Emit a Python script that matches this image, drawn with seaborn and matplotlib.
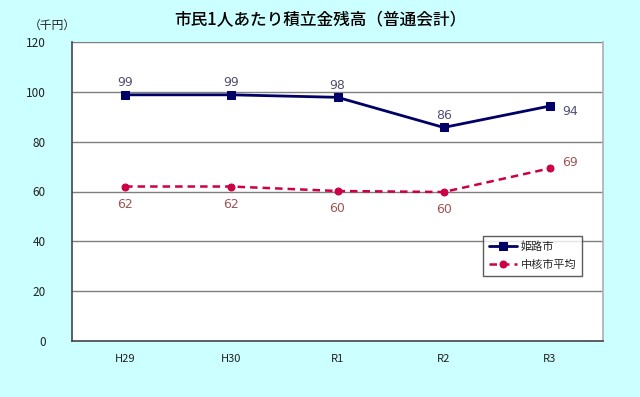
import matplotlib
matplotlib.use("Agg")
import matplotlib.pyplot as plt
import seaborn as sns
import pandas as pd

categories = ["H29", "H30", "R1", "R2", "R3"]
himeji = [98.8, 98.8, 97.8, 85.7, 94.3]
chukaku = [62.0, 62.0, 60.2, 59.8, 69.3]
himeji_labels = ["99", "99", "98", "86", "94"]
chukaku_labels = ["62", "62", "60", "60", "69"]
series_names = ["姫路市", "中核市平均"]
yticks = [0, 20, 40, 60, 80, 100, 120]

sns.set_theme(style="white")
plt.rcParams['font.family'] = ['Noto Sans CJK JP', 'DejaVu Sans']

df = pd.DataFrame({
    "year": categories * 2,
    "value": himeji + chukaku,
    "series": [series_names[0]] * 5 + [series_names[1]] * 5,
})

bg = "#CCFFFF"
fig = plt.figure(figsize=(6.4, 3.97), dpi=100, facecolor=bg)
ax = fig.add_axes([72/640, 1 - 341/397, (603-72)/640, (341-42)/397])
ax.set_facecolor("white")

blue = "#000066"
red = "#CC0044"
sns.lineplot(data=df[df.series == series_names[0]], x="year", y="value", ax=ax,
             color=blue, lw=2, marker="s", markersize=5.5, markeredgecolor=blue,
             label=series_names[0], sort=False)
sns.lineplot(data=df[df.series == series_names[1]], x="year", y="value", ax=ax,
             color=red, lw=1.8, linestyle=(0, (3, 2)), marker="o", markersize=5,
             markeredgecolor=red, label=series_names[1], sort=False)

ax.set_ylim(0, 120)
ax.set_xlim(-0.5, 4.5)
ax.set_yticks(yticks)
ax.set_yticklabels([str(v) for v in yticks], fontsize=8.5, color="#222222")
ax.set_xticks(range(len(categories)))
ax.set_xticklabels(categories, fontsize=8, color="#222222")
ax.tick_params(axis="x", which="major", length=0, pad=9)
ax.tick_params(axis="y", which="major", length=0, pad=19)
ax.set_xticks([0.5, 1.5, 2.5, 3.5], minor=True)
ax.tick_params(axis="x", which="minor", length=3, direction="in", color="#444444", width=1)
for y in yticks[1:]:
    ax.axhline(y, color="#7f7f7f", lw=1, zorder=0.5)
ax.set_xlabel("")
ax.set_ylabel("")
for s in ["left", "bottom"]:
    ax.spines[s].set_color("#444444")
    ax.spines[s].set_linewidth(1.2)
ax.spines["top"].set_visible(False)
ax.spines["right"].set_color("#b0b0b0")

lab_blue = "#505070"
lab_red = "#A05555"
for i, (v, t) in enumerate(zip(himeji, himeji_labels)):
    if i == 4:
        ax.annotate(t, (i, v), xytext=(9, -4), textcoords="offset points",
                    ha="left", va="center", fontsize=9, color=lab_blue, family="DejaVu Sans")
    else:
        ax.annotate(t, (i, v), xytext=(0, 4), textcoords="offset points",
                    ha="center", va="bottom", fontsize=9, color=lab_blue, family="DejaVu Sans")
for i, (v, t) in enumerate(zip(chukaku, chukaku_labels)):
    if i == 4:
        ax.annotate(t, (i, v), xytext=(9, 4), textcoords="offset points",
                    ha="left", va="center", fontsize=9, color=lab_red, family="DejaVu Sans")
    else:
        ax.annotate(t, (i, v), xytext=(0, -8), textcoords="offset points",
                    ha="center", va="top", fontsize=9, color=lab_red, family="DejaVu Sans")

leg = ax.legend(loc="upper left", bbox_to_anchor=((483-72)/531, (341-236)/299),
                fontsize=8, frameon=True, fancybox=False, handlelength=2.6,
                borderpad=0.5, labelspacing=0.7, handletextpad=0.3, borderaxespad=0)
leg.get_frame().set_edgecolor("#333333")
leg.get_frame().set_linewidth(1)
leg.get_frame().set_facecolor("white")

fig.text(320/640, 1 - 20/397, "市民1人あたり積立金残高（普通会計）", ha="center", va="center",
         fontsize=12, color="#000000", fontweight="medium")
fig.text(52/640, 1 - 25/397, "（千円）", ha="center", va="center", fontsize=8.5, color="#222222")

fig.savefig("out.png", dpi=100, facecolor=bg)
